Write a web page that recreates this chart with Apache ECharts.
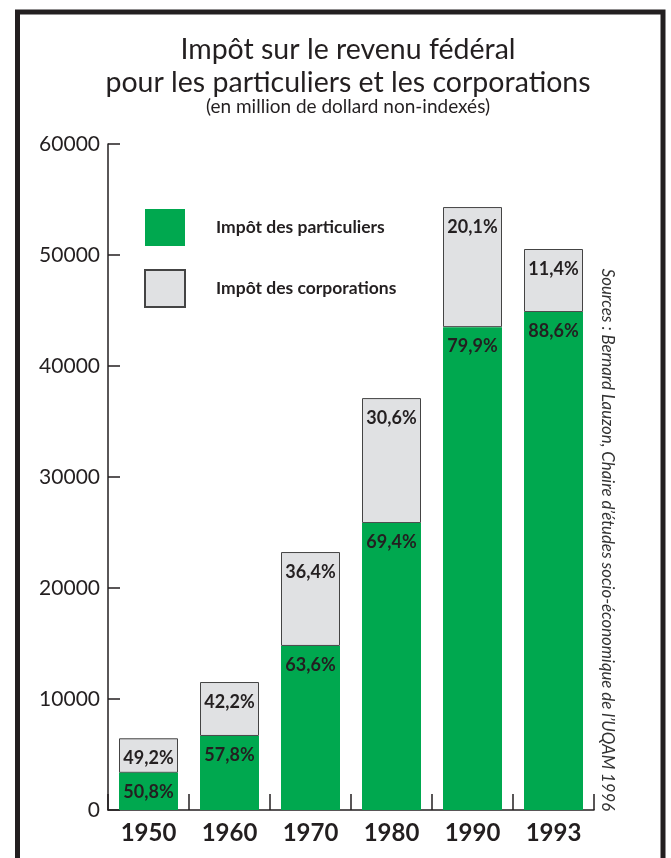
<!DOCTYPE html>
<html>
<head>
<meta charset="utf-8">
<script src="https://cdn.jsdelivr.net/npm/echarts@6/dist/echarts.min.js"></script>
<style>
html,body{margin:0;padding:0;background:#fff;}
#chart{width:671px;height:858px;}
</style>
</head>
<body>
<div id="chart"></div>
<script>
var categories = ['1950', '1960', '1970', '1980', '1990', '1993'];
var particuliers = [3350, 6670, 14780, 25850, 43500, 44860];
var corporations = [3110, 4860, 8460, 11260, 10820, 5680];
var pctParticuliers = ['50,8%', '57,8%', '63,6%', '69,4%', '79,9%', '88,6%'];
var pctCorporations = ['49,2%', '42,2%', '36,4%', '30,6%', '20,1%', '11,4%'];
var yTicks = [0, 10000, 20000, 30000, 40000, 50000, 60000];

var TXT = '#231f20';
var chart = echarts.init(document.getElementById('chart'), null, {renderer: 'canvas'});
chart.setOption({
  backgroundColor: '#fff',
  animation: false,
  grid: {left: 108, right: 77, top: 144, bottom: 48, containLabel: false},
  legend: {
    orient: 'vertical',
    left: 144,
    top: 209,
    padding: 0,
    itemWidth: 40,
    itemHeight: 37,
    itemGap: 23,
    icon: 'rect',
    textStyle: {fontFamily: 'Lato', fontWeight: 'bold', fontSize: 17.5, color: TXT, padding: [0, 0, 0, 26]},
    data: ['Impôt des particuliers', 'Impôt des corporations']
  },
  xAxis: {
    type: 'category',
    data: categories,
    axisLine: {lineStyle: {color: TXT, width: 1.5}},
    axisTick: {show: true, inside: true, length: 16, alignWithLabel: false, lineStyle: {color: TXT, width: 1.5}},
    axisLabel: {fontFamily: 'Lato', fontWeight: 'bold', fontSize: 24, color: TXT, margin: 11}
  },
  yAxis: {
    type: 'value',
    min: yTicks[0],
    max: yTicks[yTicks.length - 1],
    interval: 10000,
    splitLine: {show: false},
    axisLine: {show: true, lineStyle: {color: TXT, width: 1.5}},
    axisTick: {show: true, inside: true, length: 12, lineStyle: {color: TXT, width: 1.5}},
    axisLabel: {fontFamily: 'Lato', fontSize: 21, color: TXT, margin: 8, formatter: function (v) { return String(v); }}
  },
  series: [
    {
      name: 'Impôt des particuliers',
      type: 'bar',
      stack: 'total',
      barWidth: 59,
      z: 3,
      data: particuliers,
      itemStyle: {color: '#00a84f'},
      label: {
        show: true, position: 'insideTop', distance: 10,
        fontFamily: 'Lato', fontWeight: 'bold', fontSize: 18, color: TXT,
        formatter: function (p) { return pctParticuliers[p.dataIndex]; }
      }
    },
    {
      name: 'Impôt des corporations',
      type: 'bar',
      stack: 'total',
      barWidth: 59,
      z: 2,
      data: corporations,
      itemStyle: {color: '#e0e1e3', borderColor: '#444', borderWidth: 1},
      label: {
        show: true, position: 'insideTop', distance: 11,
        fontFamily: 'Lato', fontWeight: 'bold', fontSize: 18, color: TXT,
        formatter: function (p) { return pctCorporations[p.dataIndex]; }
      }
    }
  ],
  graphic: [
    {type: 'rect', silent: true, shape: {x: 17.5, y: 12, width: 645.5, height: 900},
      style: {fill: 'none', stroke: '#231f20', lineWidth: 5}},
    {type: 'text', x: 348, y: 50, style: {text: 'Impôt sur le revenu fédéral', fontFamily: 'Lato', fontSize: 28.5, fill: TXT, align: 'center', verticalAlign: 'middle'}},
    {type: 'text', x: 348, y: 83, style: {text: 'pour les particuliers et les corporations', fontFamily: 'Lato', fontSize: 28.5, fill: TXT, align: 'center', verticalAlign: 'middle'}},
    {type: 'text', x: 348, y: 107, style: {text: '(en million de dollard non-indexés)', fontFamily: 'Lato', fontSize: 19, fill: TXT, align: 'center', verticalAlign: 'middle'}},
    {type: 'text', x: 607, y: 540, rotation: -Math.PI / 2,
      style: {text: 'Sources : Bernard Lauzon, Chaire d’études socio-économique de l’UQAM 1996', fontFamily: 'Lato', fontStyle: 'italic', fontSize: 16.8, fill: '#333', align: 'center', verticalAlign: 'middle'}}
  ]
});
</script>
</body>
</html>
